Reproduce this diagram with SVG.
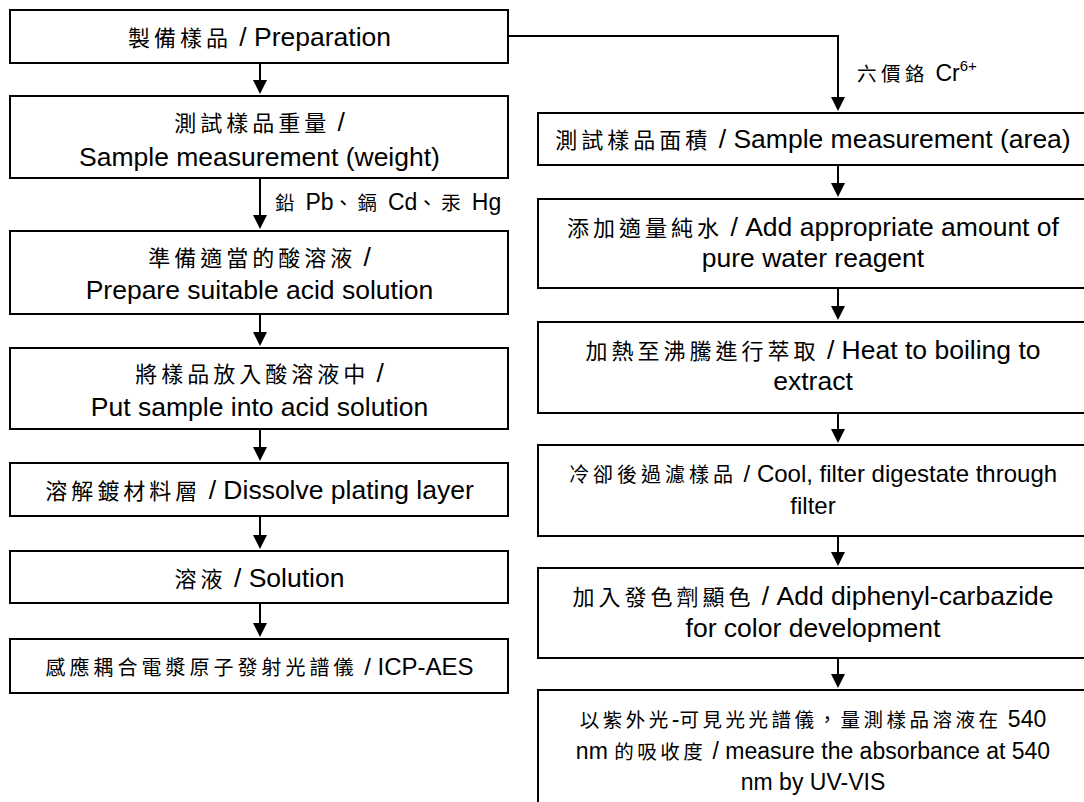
<svg xmlns="http://www.w3.org/2000/svg" width="1084" height="802" viewBox="0 0 1084 802">
<defs>
<style>
.box{fill:#fff;stroke:#000;stroke-width:2}
.ln{fill:none;stroke:#000;stroke-width:2;marker-end:url(#ah)}
text{font-family:"Liberation Sans",Arial,sans-serif;font-size:26.5px;fill:#000;text-anchor:middle}
.c{font-family:"Noto Sans CJK TC","Noto Sans CJK SC",sans-serif;font-size:22px;letter-spacing:4px}
text.s24{font-size:24px}
.s24 .c{font-size:20px;letter-spacing:4px}
text.s23{font-size:23px}
.s23 .c{font-size:19.5px;letter-spacing:3.5px}
text.lbl{text-anchor:start}
text.lbl .c{letter-spacing:4.5px}
.sup{font-size:15px}
</style>
<marker id="ah" markerUnits="userSpaceOnUse" markerWidth="14" markerHeight="14" refX="6" refY="7" orient="auto" viewBox="0 0 14 14"><path d="M0,0 L14,7 L0,14 z" fill="#000"/></marker>
</defs>
<rect width="1084" height="802" fill="#fff"/>

<g id="connectors">
<path class="ln" d="M260,63 V86"/>
<path class="ln" d="M260,178 V221"/>
<path class="ln" d="M260,314 V338"/>
<path class="ln" d="M260,429 V453"/>
<path class="ln" d="M260,516 V541"/>
<path class="ln" d="M260,603 V629"/>
<path class="ln" d="M508,36 H838 V103"/>
<path class="ln" d="M838,165 V189"/>
<path class="ln" d="M838,288 V312"/>
<path class="ln" d="M838,413 V435"/>
<path class="ln" d="M838,536 V558"/>
<path class="ln" d="M838,658 V680"/>
<text id="label-pb" class="s23 lbl" x="275" y="210"><tspan class="c">鉛</tspan> Pb<tspan class="c">、鎘</tspan> Cd<tspan class="c">、汞</tspan> Hg</text>
<text id="label-cr" class="s23 lbl" x="857" y="81"><tspan class="c">六價鉻</tspan> Cr<tspan class="sup" dy="-10">6+</tspan></text>
</g>

<g id="n-prep">
<rect class="box" x="10" y="10" width="498" height="53"/>
<text x="259.5" y="46"><tspan class="c">製備樣品</tspan> / Preparation</text>
</g>
<g id="n-weight">
<rect class="box" x="10" y="96" width="498" height="82"/>
<text x="259.5" y="130.5"><tspan class="c">測試樣品重量</tspan> /</text>
<text x="259.5" y="166">Sample measurement (weight)</text>
</g>
<g id="n-acid">
<rect class="box" x="10" y="231" width="498" height="83"/>
<text x="259.5" y="266"><tspan class="c">準備適當的酸溶液</tspan> /</text>
<text x="259.5" y="299">Prepare suitable acid solution</text>
</g>
<g id="n-put">
<rect class="box" x="10" y="348" width="498" height="81"/>
<text x="259.5" y="382"><tspan class="c">將樣品放入酸溶液中</tspan> /</text>
<text x="259.5" y="416">Put sample into acid solution</text>
</g>
<g id="n-dissolve">
<rect class="box" x="10" y="463" width="498" height="53"/>
<text x="259.5" y="499"><tspan class="c">溶解鍍材料層</tspan> / Dissolve plating layer</text>
</g>
<g id="n-solution">
<rect class="box" x="10" y="551" width="498" height="52"/>
<text x="259.5" y="586.5"><tspan class="c">溶液</tspan> / Solution</text>
</g>
<g id="n-icp">
<rect class="box" x="10" y="639" width="498" height="54"/>
<text class="s24" x="259.5" y="675"><tspan class="c">感應耦合電漿原子發射光譜儀</tspan> / ICP-AES</text>
</g>

<g id="n-area">
<rect class="box" x="538" y="113" width="552" height="52"/>
<text x="813" y="148"><tspan class="c">測試樣品面積</tspan> / Sample measurement (area)</text>
</g>
<g id="n-water">
<rect class="box" x="538" y="199" width="552" height="89"/>
<text x="813" y="235.5"><tspan class="c">添加適量純水</tspan> / Add appropriate amount of</text>
<text x="813" y="267">pure water reagent</text>
</g>
<g id="n-heat">
<rect class="box" x="538" y="322" width="552" height="91"/>
<text x="813" y="358.5"><tspan class="c">加熱至沸騰進行萃取</tspan> / Heat to boiling to</text>
<text x="813" y="390">extract</text>
</g>
<g id="n-cool">
<rect class="box" x="538" y="445" width="552" height="91"/>
<text class="s24" x="813" y="482"><tspan class="c">冷卻後過濾樣品</tspan> / Cool, filter digestate through</text>
<text class="s24" x="813" y="513.5">filter</text>
</g>
<g id="n-color">
<rect class="box" x="538" y="568" width="552" height="90"/>
<text x="813" y="605"><tspan class="c">加入發色劑顯色</tspan> / Add diphenyl-carbazide</text>
<text x="813" y="636.5">for color development</text>
</g>
<g id="n-uvvis">
<rect class="box" x="538" y="690" width="552" height="130"/>
<text class="s23" x="813" y="726.5"><tspan class="c">以紫外光</tspan>-<tspan class="c">可見光光譜儀，量測樣品溶液在</tspan> 540</text>
<text class="s23" x="813" y="758.5">nm <tspan class="c">的吸收度</tspan> / measure the absorbance at 540</text>
<text class="s23" x="813" y="790">nm by UV-VIS</text>
</g>
</svg>
